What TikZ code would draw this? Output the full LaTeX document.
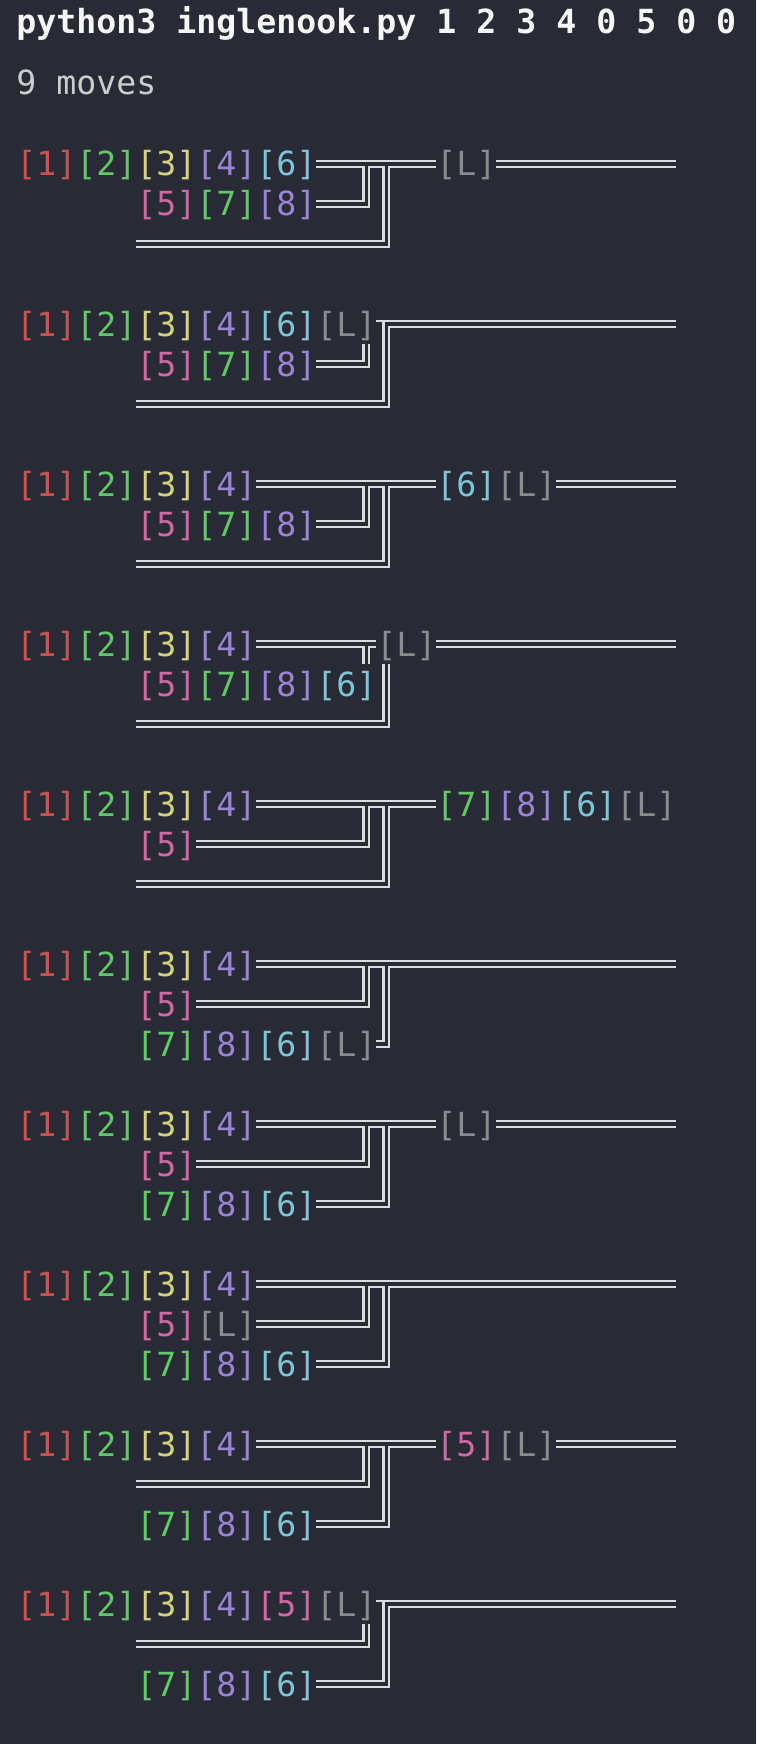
\documentclass[tikz,border=0pt]{standalone}
\usepackage{fontspec}
\setmonofont{DejaVu Sans Mono}
\definecolor{bgc}{RGB}{40,42,54}
\definecolor{cred}{RGB}{204,82,82}
\definecolor{cgreen}{RGB}{98,201,101}
\definecolor{cyellow}{RGB}{212,212,128}
\definecolor{cpurple}{RGB}{155,132,212}
\definecolor{ccyan}{RGB}{128,196,214}
\definecolor{cpink}{RGB}{207,104,164}
\definecolor{cgrey}{RGB}{140,140,140}
\definecolor{railc}{RGB}{220,220,220}
\definecolor{titlec}{RGB}{246,246,246}
\definecolor{movesc}{RGB}{205,205,205}
\newcommand{\X}[1]{(16.3+20*(#1))}
\newcommand{\jA}{366.3}
\newcommand{\jB}{386.3}
\newcommand{\rg}{2.9}
\newcommand{\cellnode}[5]{\node[tx,text=#5] (#1) at ({\X{#2}},{40*(#3)+12}) {#4};}
\newcommand{\hseg}[3]{%
 \draw[rail] ({\X{#2}},{40*(#1)-\rg}) -- ({\X{#3}},{40*(#1)-\rg});
 \draw[rail] ({\X{#2}},{40*(#1)+\rg}) -- ({\X{#3}},{40*(#1)+\rg});}
\newcommand{\stdj}[4]{%
 \draw[rail] ({\X{#1}},{-\rg}) -- ({\X{#2}},{-\rg});
 \draw[rail] ({\X{#1}},{\rg}) -- ({\jA-\rg},{\rg}) -- ({\jA-\rg},{40-\rg}) -- ({\X{#3}},{40-\rg});
 \draw[rail] ({\X{#3}},{40+\rg}) -- ({\jA+\rg},{40+\rg}) -- ({\jA+\rg},{\rg}) -- ({\jB-\rg},{\rg}) -- ({\jB-\rg},{80-\rg}) -- ({\X{#4}},{80-\rg});
 \draw[rail] ({\X{#4}},{80+\rg}) -- ({\jB+\rg},{80+\rg}) -- ({\jB+\rg},{\rg}) -- ({\X{#2}},{\rg});}
\newcommand{\cornerj}[2]{%
 \draw[rail] ({\X{18}},{-\rg}) -- ({\X{33}},{-\rg});
 \draw[rail] ({\jB-\rg},{-\rg}) -- ({\jB-\rg},{80-\rg}) -- ({\X{#2}},{80-\rg});
 \draw[rail] ({\X{33}},{\rg}) -- ({\jB+\rg},{\rg}) -- ({\jB+\rg},{80+\rg}) -- ({\X{#2}},{80+\rg});
 \draw[rail] ({\X{#1}},{40-\rg}) -- ({\jA-\rg},{40-\rg}) -- ({\jA-\rg},20);
 \draw[rail] ({\X{#1}},{40+\rg}) -- ({\jA+\rg},{40+\rg}) -- ({\jA+\rg},20);}
\newcommand{\mainfour}[1]{%
 \cellnode{#1a}{0}{0}{[1]}{cred}
 \cellnode{#1b}{3}{0}{[2]}{cgreen}
 \cellnode{#1c}{6}{0}{[3]}{cyellow}
 \cellnode{#1d}{9}{0}{[4]}{cpurple}}
\begin{document}
\begin{tikzpicture}[x=1pt,y=-1pt,
  tx/.style={font=\ttfamily\fontsize{33.22}{40}\selectfont, inner sep=0pt, outer sep=0pt, anchor=base west},
  rail/.style={draw=railc, line width=2.3pt, line join=miter}]
\fill[bgc] (0,0) rectangle (756,1744);
\useasboundingbox (0,0) rectangle (756,1744);
\node[tx, font=\ttfamily\bfseries\fontsize{33.22}{40}\selectfont, text=titlec] (title) at (16.3,34) {python3 inglenook.py 1 2 3 4 0 5 0 0};
\node[tx, text=movesc] (moves) at (16.3,95) {9 moves};

% block 1
\begin{scope}[shift={(0,164)}]
 \mainfour{ba}
 \cellnode{bae}{12}{0}{[6]}{ccyan}
 \cellnode{baL}{21}{0}{[L]}{cgrey}
 \cellnode{ba5}{6}{1}{[5]}{cpink}
 \cellnode{ba7}{9}{1}{[7]}{cgreen}
 \cellnode{ba8}{12}{1}{[8]}{cpurple}
 \stdj{15}{21}{15}{6}
 \hseg{0}{24}{33}
\end{scope}

% block 2
\begin{scope}[shift={(0,324)}]
 \mainfour{bb}
 \cellnode{bbe}{12}{0}{[6]}{ccyan}
 \cellnode{bbL}{15}{0}{[L]}{cgrey}
 \cellnode{bb5}{6}{1}{[5]}{cpink}
 \cellnode{bb7}{9}{1}{[7]}{cgreen}
 \cellnode{bb8}{12}{1}{[8]}{cpurple}
 \cornerj{15}{6}
\end{scope}

% block 3
\begin{scope}[shift={(0,484)}]
 \mainfour{bc}
 \cellnode{bc6}{21}{0}{[6]}{ccyan}
 \cellnode{bcL}{24}{0}{[L]}{cgrey}
 \cellnode{bc5}{6}{1}{[5]}{cpink}
 \cellnode{bc7}{9}{1}{[7]}{cgreen}
 \cellnode{bc8}{12}{1}{[8]}{cpurple}
 \stdj{12}{21}{15}{6}
 \hseg{0}{27}{33}
\end{scope}

% block 4
\begin{scope}[shift={(0,644)}]
 \mainfour{bd}
 \cellnode{bdL}{18}{0}{[L]}{cgrey}
 \cellnode{bd5}{6}{1}{[5]}{cpink}
 \cellnode{bd7}{9}{1}{[7]}{cgreen}
 \cellnode{bd8}{12}{1}{[8]}{cpurple}
 \cellnode{bd6}{15}{1}{[6]}{ccyan}
 \draw[rail] ({\X{12}},{-\rg}) -- ({\X{18}},{-\rg});
 \draw[rail] ({\X{12}},{\rg}) -- ({\jA-\rg},{\rg}) -- ({\jA-\rg},20);
 \draw[rail] ({\jA+\rg},20) -- ({\jA+\rg},{\rg}) -- ({\X{18}},{\rg});
 \hseg{0}{21}{33}
 \draw[rail] ({\jB-\rg},20) -- ({\jB-\rg},{80-\rg}) -- ({\X{6}},{80-\rg});
 \draw[rail] ({\jB+\rg},20) -- ({\jB+\rg},{80+\rg}) -- ({\X{6}},{80+\rg});
\end{scope}

% block 5
\begin{scope}[shift={(0,804)}]
 \mainfour{be}
 \cellnode{be7}{21}{0}{[7]}{cgreen}
 \cellnode{be8}{24}{0}{[8]}{cpurple}
 \cellnode{be6}{27}{0}{[6]}{ccyan}
 \cellnode{beL}{30}{0}{[L]}{cgrey}
 \cellnode{be5}{6}{1}{[5]}{cpink}
 \stdj{12}{21}{9}{6}
\end{scope}

% block 6
\begin{scope}[shift={(0,964)}]
 \mainfour{bf}
 \cellnode{bf5}{6}{1}{[5]}{cpink}
 \cellnode{bf7}{6}{2}{[7]}{cgreen}
 \cellnode{bf8}{9}{2}{[8]}{cpurple}
 \cellnode{bf6}{12}{2}{[6]}{ccyan}
 \cellnode{bfL}{15}{2}{[L]}{cgrey}
 \stdj{12}{33}{9}{18}
\end{scope}

% block 7
\begin{scope}[shift={(0,1124)}]
 \mainfour{bg}
 \cellnode{bgL}{21}{0}{[L]}{cgrey}
 \cellnode{bg5}{6}{1}{[5]}{cpink}
 \cellnode{bg7}{6}{2}{[7]}{cgreen}
 \cellnode{bg8}{9}{2}{[8]}{cpurple}
 \cellnode{bg6}{12}{2}{[6]}{ccyan}
 \stdj{12}{21}{9}{15}
 \hseg{0}{24}{33}
\end{scope}

% block 8
\begin{scope}[shift={(0,1284)}]
 \mainfour{bh}
 \cellnode{bh5}{6}{1}{[5]}{cpink}
 \cellnode{bhL}{9}{1}{[L]}{cgrey}
 \cellnode{bh7}{6}{2}{[7]}{cgreen}
 \cellnode{bh8}{9}{2}{[8]}{cpurple}
 \cellnode{bh6}{12}{2}{[6]}{ccyan}
 \stdj{12}{33}{12}{15}
\end{scope}

% block 9
\begin{scope}[shift={(0,1444)}]
 \mainfour{bi}
 \cellnode{bi5}{21}{0}{[5]}{cpink}
 \cellnode{biL}{24}{0}{[L]}{cgrey}
 \cellnode{bi7}{6}{2}{[7]}{cgreen}
 \cellnode{bi8}{9}{2}{[8]}{cpurple}
 \cellnode{bi6}{12}{2}{[6]}{ccyan}
 \stdj{12}{21}{6}{15}
 \hseg{0}{27}{33}
\end{scope}

% block 10
\begin{scope}[shift={(0,1604)}]
 \mainfour{bj}
 \cellnode{bj5}{12}{0}{[5]}{cpink}
 \cellnode{bjL}{15}{0}{[L]}{cgrey}
 \cellnode{bj7}{6}{2}{[7]}{cgreen}
 \cellnode{bj8}{9}{2}{[8]}{cpurple}
 \cellnode{bj6}{12}{2}{[6]}{ccyan}
 \cornerj{6}{15}
\end{scope}
\end{tikzpicture}
\end{document}
